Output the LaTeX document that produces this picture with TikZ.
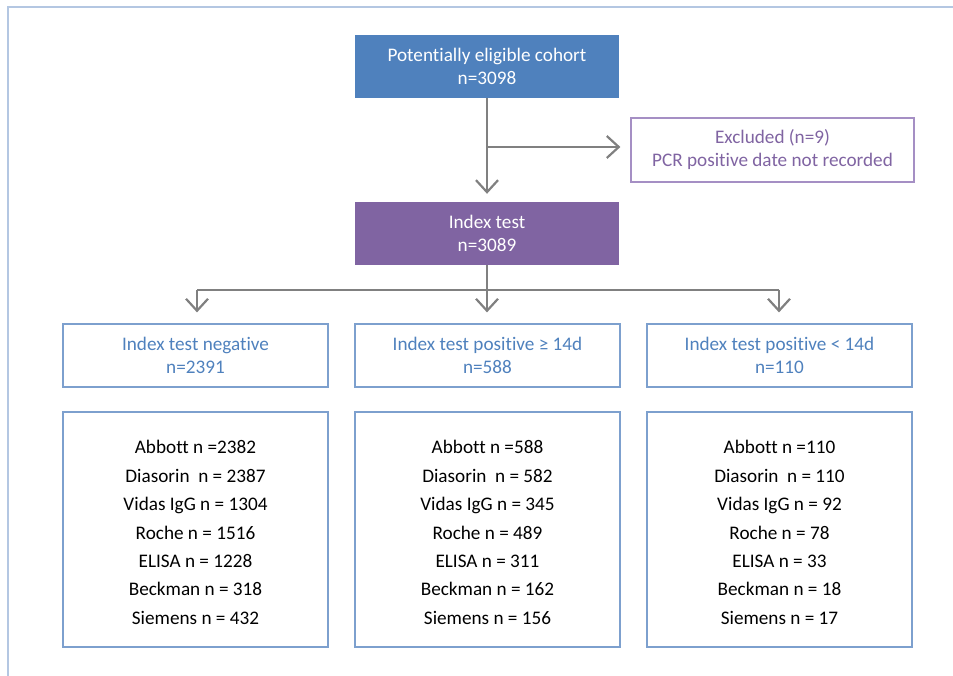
\documentclass[tikz,border=0pt]{standalone}
\usepackage{fontspec}
\setmainfont[Ligatures=NoCommon]{Carlito}
\usetikzlibrary{arrows.meta}
\definecolor{blueF}{HTML}{4F81BD}
\definecolor{purpF}{HTML}{8064A2}
\definecolor{blueB}{HTML}{7DA0CE}
\definecolor{purpB}{HTML}{A58FC4}
\definecolor{frameC}{HTML}{B4C7E2}
\definecolor{arrC}{HTML}{808080}
\begin{document}
\begin{tikzpicture}[x=1pt,y=-1pt,
  txt/.style={font=\fontsize{19.2}{23}\selectfont, align=center, inner sep=0pt},
  filledbox/.style={txt, minimum width=264pt, minimum height=63pt, text=white},
  outbox/.style={txt, draw, line width=1.2pt, minimum width=265pt, minimum height=63pt},
  listbox/.style={draw=blueB, line width=1.2pt, minimum width=265pt, minimum height=235pt, inner sep=0pt},
  listtxt/.style={inner sep=0pt, font=\fontsize{19.2}{28.4}\selectfont, align=center},
  flow/.style={draw=arrC, line width=2.4pt},
  flowarr/.style={flow, -{Straight Barb[length=12pt,width=22pt,line width=2.2pt]}}
]
\useasboundingbox (0,0) rectangle (953,676);
\draw[frameC, line width=1.3pt] (8,676) coordinate (fbl) -- (8,7) coordinate (ftl) -- (953,7) coordinate (ftr);

\node[filledbox, fill=blueF] (top) at (487,66.5) {Potentially eligible cohort\\n=3098};
\node[txt, draw=purpB, line width=1.2pt, minimum width=283pt, minimum height=64pt, text=purpF] (excl) at (772.5,150) {Excluded (n=9)\\PCR positive date not recorded};
\node[filledbox, fill=purpF] (idx) at (487,233.5) {Index test\\n=3089};

\node[outbox, draw=blueB, text=blueF] (neg) at (195.5,355.5) {Index test negative\\n=2391};
\node[outbox, draw=blueB, text=blueF] (pos) at (487.5,355.5) {Index test positive ≥ 14d\\n=588};
\node[outbox, draw=blueB, text=blueF] (early) at (779.5,355.5) {Index test positive < 14d\\n=110};

\node[listbox] (negl) at (195.5,529.5) {};
\node[listbox] (posl) at (487.5,529.5) {};
\node[listbox] (earlyl) at (779.5,529.5) {};
\node[listtxt] (negt) at ([yshift=-3pt]negl.center) {Abbott n =2382\\Diasorin\ \ n = 2387\\Vidas IgG n = 1304\\Roche n = 1516\\ELISA n = 1228\\Beckman n = 318\\Siemens n = 432};
\node[listtxt] (post) at ([yshift=-3pt]posl.center) {Abbott n =588\\Diasorin\ \ n = 582\\Vidas IgG n = 345\\Roche n = 489\\ELISA n = 311\\Beckman n = 162\\Siemens n = 156};
\node[listtxt] (earlyt) at ([yshift=-3pt]earlyl.center) {Abbott n =110\\Diasorin\ \ n = 110\\Vidas IgG n = 92\\Roche n = 78\\ELISA n = 33\\Beckman n = 18\\Siemens n = 17};

\coordinate (br) at (487,147);
\draw[flowarr, shorten >=8pt] (top.south) -- (idx.north);
\draw[flowarr, shorten >=10pt] (br) -- (br -| excl.west);

\coordinate (j) at (487,290);
\coordinate (jl) at (197,290);
\coordinate (jr) at (779,290);
\draw[flow] (idx.south) -- (j);
\draw[flow] (jl) -- (jr);
\draw[flowarr, shorten >=11pt] (jl) -- (jl |- neg.north);
\draw[flowarr, shorten >=11pt] (j) -- (j |- pos.north);
\draw[flowarr, shorten >=11pt] (jr) -- (jr |- early.north);
\end{tikzpicture}
\end{document}
